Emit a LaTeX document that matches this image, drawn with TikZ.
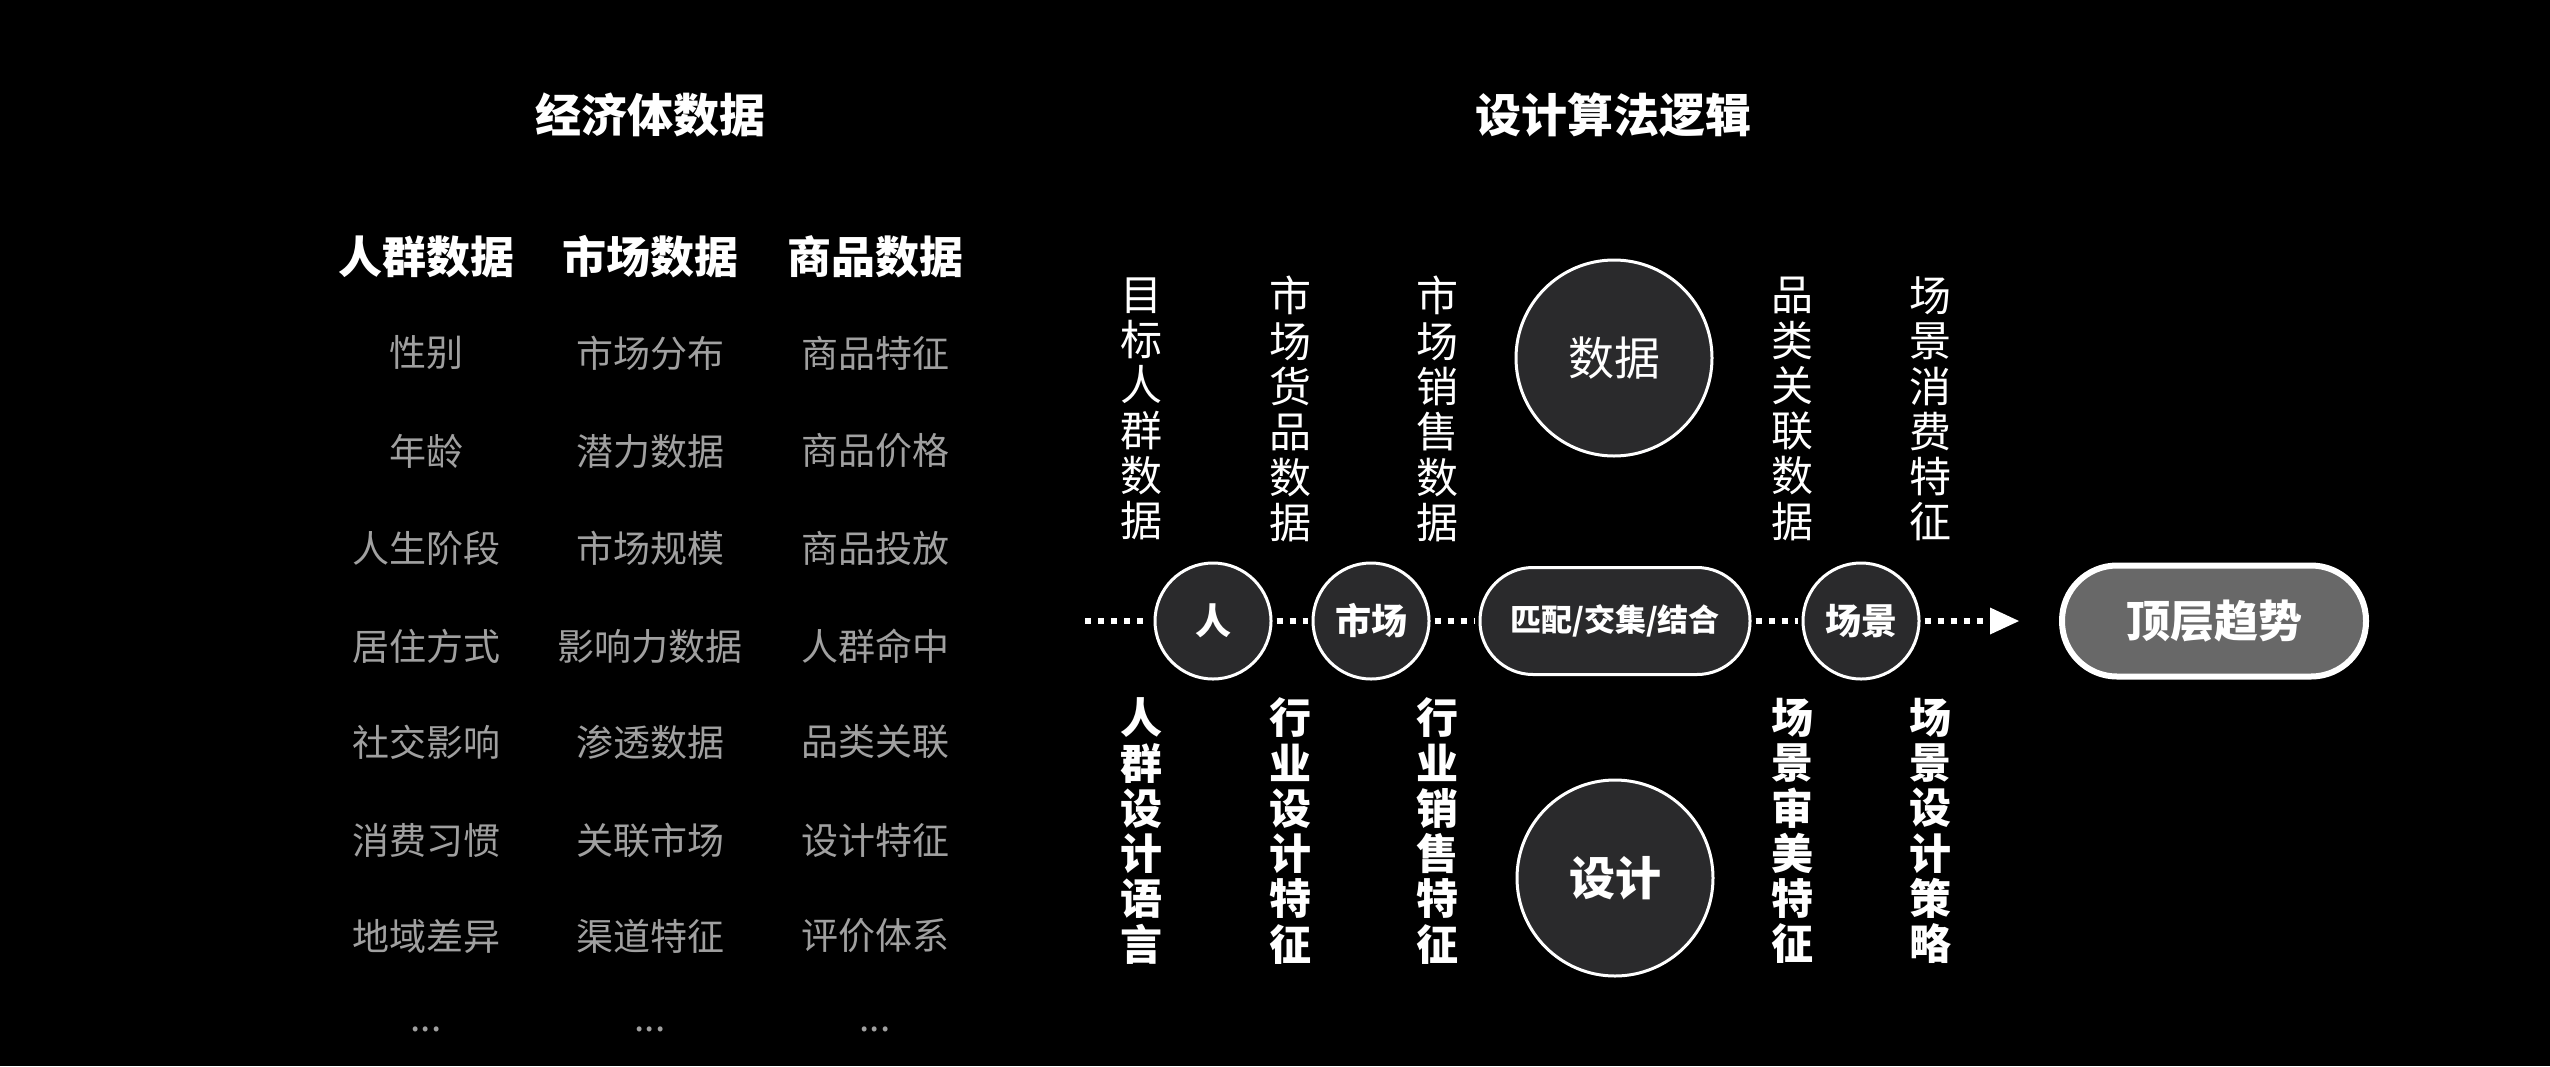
\documentclass[tikz,border=0pt]{standalone}
\usepackage{fontspec}
\setmainfont{Noto Sans CJK SC}
\usetikzlibrary{arrows.meta}
\definecolor{itemgray}{HTML}{A0A0A0}
\definecolor{nodefill}{HTML}{2A2A2C}
\definecolor{trendfill}{HTML}{686868}
\begin{document}
\begin{tikzpicture}[x=1pt,y=-1pt,
  title/.style={text=white,font=\bfseries\fontsize{46}{50}\selectfont,inner sep=0pt},
  colhead/.style={text=white,font=\bfseries\fontsize{44}{48}\selectfont,inner sep=0pt},
  item/.style={text=itemgray,font=\fontsize{37}{40}\selectfont,inner sep=0pt},
  vlab/.style={text=white,align=center,font=\fontsize{42}{45.3}\selectfont,inner sep=0pt},
  vlabb/.style={text=white,align=center,font=\bfseries\fontsize{42}{45.3}\selectfont,inner sep=0pt},
  stage/.style={circle,draw=white,line width=3pt,fill=nodefill,text=white,minimum size=116pt,inner sep=0pt,font=\bfseries\fontsize{36}{40}\selectfont},
  bigc/.style={circle,draw=white,line width=3pt,fill=nodefill,text=white,minimum size=196pt,inner sep=0pt},
  dotline/.style={white,line width=6pt,dash pattern=on 6pt off 7pt,shorten <=4pt,shorten >=4pt}
]
\fill[black] (0,0) rectangle (2550,1066);
\useasboundingbox (0,0) rectangle (2550,1066);

% titles
\node[title] (t1) at (650,115) {经济体数据};
\node[title] (t2) at (1613,115) {设计算法逻辑};

% column headers
\node[colhead] (h1) at (426,257) {人群数据};
\node[colhead] (h2) at (650,257) {市场数据};
\node[colhead] (h3) at (875,257) {商品数据};

% column 1
\node[item] (a1) at (426,353) {性别};
\node[item] (a2) at (426,451) {年龄};
\node[item] (a3) at (426,548) {人生阶段};
\node[item] (a4) at (426,646) {居住方式};
\node[item] (a5) at (426,742) {社交影响};
\node[item] (a6) at (426,840) {消费习惯};
\node[item] (a7) at (426,936) {地域差异};
\node[item,anchor=base] (a8) at (426,1031) {...};
% column 2
\node[item] (b1) at (650,353) {市场分布};
\node[item] (b2) at (650,451) {潜力数据};
\node[item] (b3) at (650,548) {市场规模};
\node[item] (b4) at (650,646) {影响力数据};
\node[item] (b5) at (650,742) {渗透数据};
\node[item] (b6) at (650,840) {关联市场};
\node[item] (b7) at (650,936) {渠道特征};
\node[item,anchor=base] (b8) at (650,1031) {...};
% column 3
\node[item] (c1) at (875,353) {商品特征};
\node[item] (c2) at (875,451) {商品价格};
\node[item] (c3) at (875,548) {商品投放};
\node[item] (c4) at (875,646) {人群命中};
\node[item] (c5) at (875,742) {品类关联};
\node[item] (c6) at (875,840) {设计特征};
\node[item] (c7) at (875,936) {评价体系};
\node[item,anchor=base] (c8) at (875,1031) {...};

% vertical labels (top)
\node[vlab] (u1) at (1141,409) {目\\标\\人\\群\\数\\据};
\node[vlab] (u2) at (1290,409) {市\\场\\货\\品\\数\\据};
\node[vlab] (u3) at (1437,409) {市\\场\\销\\售\\数\\据};
\node[vlab] (u4) at (1792,409) {品\\类\\关\\联\\数\\据};
\node[vlab] (u5) at (1930,409) {场\\景\\消\\费\\特\\征};
% vertical labels (bottom)
\node[vlabb] (d1) at (1141,831) {人\\群\\设\\计\\语\\言};
\node[vlabb] (d2) at (1290,831) {行\\业\\设\\计\\特\\征};
\node[vlabb] (d3) at (1437,831) {行\\业\\销\\售\\特\\征};
\node[vlabb] (d4) at (1792,831) {场\\景\\审\\美\\特\\征};
\node[vlabb] (d5) at (1930,831) {场\\景\\设\\计\\策\\略};

% big circles
\node[bigc,font=\fontsize{46}{50}\selectfont] (data) at (1614,358) {数据};
\node[bigc,font=\bfseries\fontsize{46}{50}\selectfont] (design) at (1615,878) {设计};

% stages
\node[stage] (p1) at (1213,621) {人};
\node[stage] (p2) at (1371,621) {市场};
\node[rectangle,rounded corners=53pt,draw=white,line width=3pt,fill=nodefill,text=white,
      minimum width=270pt,minimum height=107pt,inner sep=0pt,
      font=\bfseries\fontsize{31}{34}\selectfont] (p3) at (1615,621) {匹配/交集/结合};
\node[stage] (p4) at (1861,621) {场景};
\node[rectangle,rounded corners=55pt,draw=white,line width=6pt,fill=trendfill,text=white,
      minimum width=304pt,minimum height=111pt,inner sep=0pt,
      font=\bfseries\fontsize{44}{48}\selectfont] (top) at (2214,621) {顶层趋势};

\coordinate (start) at (1081,621);
\draw[dotline] (start) -- (p1);
\draw[dotline] (p1) -- (p2);
\draw[dotline] (p2) -- (p3);
\draw[dotline] (p3) -- (p4);
\draw[dotline,shorten >=40pt,-{Triangle[width=27pt,length=29pt,line width=0pt]}] (p4) -- (top);
\end{tikzpicture}
\end{document}
